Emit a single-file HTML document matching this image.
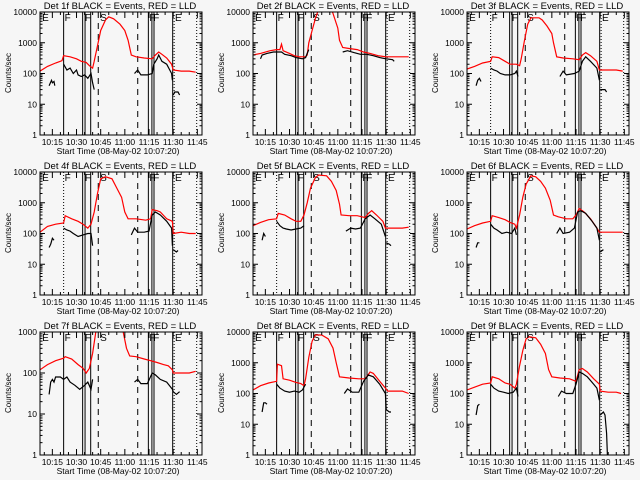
<!DOCTYPE html>
<html><head><meta charset="utf-8"><style>
html,body{margin:0;padding:0;background:#f6f6f6;}
svg{display:block;font-family:"Liberation Sans",sans-serif;}
</style></head><body>
<svg id="chart" width="640" height="480" viewBox="0 0 640 480" xmlns="http://www.w3.org/2000/svg">
<rect x="0" y="0" width="640" height="480" fill="#f6f6f6"/>
</svg>
<script>
// time in minutes after 10:00
const detNames = ["1f","2f","3f","4f","5f","6f","7f","8f","9f"];
const yMaxDecades = [4,4,4,4,4,4,3,4,4];
const xTickLabels = ["10:15","10:30","10:45","11:00","11:15","11:30","11:45"];
const xTickTimes = [15,30,45,60,75,90,105];
const red1 = [[7.3,120],[12,170],[17,220],[21,260],[22,380],[26,350],[30,300],[33,250],[36,230],[38,180],[40,150],[41,250],[43,800],[45,2500],[48,5500],[50,7000],[53,6000],[57,4000],[60,2500],[62,1200],[64,400],[67,350],[72,320],[77,300],[79,400],[81,500],[83,420],[86,320],[89,200],[90,130],[95,120],[100,120],[104,110]];
const black1 = [[13,40],[14.5,60],[15,50],[16,55],[16.5,40],null,[22,200],[24,130],[26,150],[28,100],[30,130],[31,90],[33,80],[35,90],[37,70],[39,100],[40,50],[41,30],null,[66,100],[68,130],[70,90],[74,90],[77,100],[78,200],[80,300],[81,400],[83,250],[86,200],[89,100],[89.5,60],null,[90,20],[91,25],[93,25],[94,20]];
const red2 = [[7.3,400],[12,450],[18,550],[22,600],[24,600],[25,900],[26,550],[30,450],[33,380],[36,350],[40,350],[41,400],[42,1000],[44,2500],[46,6000],[48,12000],[56,12000],[57,9000],[60,3000],[61,1200],[63,700],[67,650],[72,600],[76,500],[80,450],[85,380],[90,350],[104,350]];
const black2 = [[12,300],[13,400],[16,450],[20,500],[22,500],[25,500],[27,420],[31,380],[34,330],[38,300],[40,330],[41,450],[42,600],null,[63,500],[66,550],[70,480],[74,420],[78,420],[82,380],[86,330],[90,300],[94,280],[95,250]];
const red3 = [[7.3,140],[12,170],[17,220],[22,250],[23,350],[27,330],[31,250],[34,200],[38,200],[40,180],[41,300],[43,1200],[45,4000],[47,6500],[52,6500],[54,5500],[57,3500],[60,2000],[61,1000],[63,350],[67,320],[73,300],[77,280],[79,400],[81,480],[84,380],[88,250],[89.5,130],[92,130],[100,130],[104,120]];
const black3 = [[13,40],[14,60],[15,70],[16,55],null,[22,150],[24,130],[26,120],[28,100],[31,90],[34,90],[37,100],[38,120],[39,80],null,[65,80],[67,120],[69,90],[74,100],[77,120],[79,250],[81,350],[84,250],[88,150],[89.5,60],null,[90,30],[93,30],[94,25]];
const red4 = [[7.3,110],[12,170],[17,200],[22,220],[23,380],[27,300],[31,250],[34,200],[37,150],[39,200],[41,500],[43,2000],[45,6000],[48,7000],[52,6000],[55,3000],[58,1500],[60,500],[62,300],[67,300],[73,270],[76,300],[77,600],[80,550],[82,500],[86,300],[89.5,250],[90,100],[95,110],[100,100],[104,100]];
const black4 = [[13,35],[14,45],[15,70],[16,60],null,[22,150],[24,130],[26,120],[28,100],[31,80],[34,90],[37,100],[39,100],[40,40],null,[64,90],[66,150],[68,110],[72,110],[75,120],[77,400],[79,500],[82,400],[86,250],[89,150],[89.5,40],null,[90,30],[92,25],[93,28]];
const red5 = [[7.3,180],[12,230],[17,280],[22,300],[23,450],[27,400],[31,300],[34,250],[37,250],[39,400],[41,1000],[43,3000],[46,6500],[48,8000],[53,7500],[56,5000],[59,2500],[61,900],[62,400],[67,380],[72,380],[77,330],[79,450],[81,550],[84,400],[88,250],[89.5,150],[92,150],[100,150],[104,160]];
const black5 = [[13,60],[14,100],[15,80],null,[22,250],[24,180],[26,150],[28,140],[31,130],[34,140],[37,150],[39,180],null,[65,120],[68,150],[71,140],[74,150],[77,300],[80,400],[83,300],[87,200],[89.5,80],null,[90,50],[92,45],[93,40]];
const red6 = [[7.3,140],[12,180],[17,220],[22,250],[23,380],[27,330],[31,280],[34,230],[37,200],[38,150],[40,400],[42,1500],[44,4000],[47,7500],[50,7000],[53,5000],[56,3000],[59,1200],[61,400],[64,350],[69,300],[73,300],[75,400],[77,650],[80,500],[84,300],[88,150],[89.5,110],[92,110],[100,110],[104,110]];
const black6 = [[13,35],[14,50],[15,50],null,[22,200],[24,150],[26,130],[29,100],[32,110],[35,100],[37,150],[38,90],null,[63,100],[65,150],[67,100],[71,110],[74,150],[76,500],[78,550],[81,450],[85,250],[88,150],[89.5,60],null,[90,25],[92,30]];
const red7 = [[7.3,120],[12,160],[17,200],[22,230],[23,250],[27,220],[31,160],[34,130],[36,100],[38,130],[40,300],[42,1000],[43,2000],[50,5000],[58,2000],[59,1000],[61,400],[63,260],[67,250],[72,220],[76,200],[80,180],[84,160],[87,150],[89.5,120],[90,100],[95,100],[100,100],[104,110]];
const black7 = [[13,30],[14,60],[15,70],[16,60],[17,80],[20,80],[22,70],[24,80],[26,60],[29,50],[32,40],[35,50],[37,60],[39,40],[40,70],null,[66,60],[68,70],[70,55],[74,55],[77,100],[79,90],[82,70],[86,60],[89.5,40],[90,35],[92,30],[94,35]];
const red8 = [[7.3,130],[12,180],[17,220],[22,250],[22.5,900],[25,800],[26,300],[30,270],[34,230],[37,210],[39,180],[40,300],[42,1500],[44,5000],[46,8000],[50,8000],[54,6000],[57,3000],[59,1000],[61,350],[67,320],[73,300],[77,300],[80,500],[82,450],[86,250],[89.5,150],[91,120],[96,120],[100,120],[104,100]];
const black8 = [[13,25],[14,50],[15,50],[16,45],null,[22,200],[24,150],[27,120],[30,110],[33,120],[36,110],[38,130],[40,200],null,[64,100],[66,140],[69,110],[73,110],[76,250],[79,400],[82,350],[86,200],[89.5,100],[90,30],[92,25],[93,25]];
const red9 = [[7.3,130],[12,160],[17,200],[22,220],[23,350],[27,300],[31,220],[34,200],[37,150],[38,200],[40,800],[42,2500],[44,6000],[46,7000],[50,6500],[53,4000],[56,2000],[58,600],[60,350],[65,320],[71,300],[75,250],[77,600],[79,650],[82,500],[86,300],[89.5,200],[90,120],[95,110],[100,110],[103,100]];
const black9 = [[13,20],[14,40],[15,45],null,[22,200],[24,150],[27,120],[30,110],[33,100],[36,110],[38,150],[39,80],null,[64,80],[66,120],[69,100],[73,100],[75,200],[77,500],[79,450],[82,350],[86,200],[88,150],[89.5,60],null,[90,20],[92,25],[93,20],[94,5],[94.5,1]];
const redSeries = [red1,red2,red3,red4,red5,red6,red7,red8,red9];
const blackSeries = [black1,black2,black3,black4,black5,black6,black7,black8,black9];
const solidLineTimes = [33.8,35.3,38.8,74.6,76.8,78.1,89.7];
const dashedLineTimes = [43.5,68];
const dottedLineTimes = [90.6,104.6];
const firstLineDotted = [false,false,true,true,true,false,false,false,false];
const markerLabels = ["E","F","F","S","F","F","E"];
const markerTimes = [8,22,34.5,44,74.6,77,90.5];

const NS = "http://www.w3.org/2000/svg";
const svg = document.getElementById("chart");
function mk(tag, attrs, parent){const e=document.createElementNS(NS,tag);for(const k in attrs)e.setAttribute(k,attrs[k]);parent.appendChild(e);return e;}
const T0=7.33, T1=107.9, PW=162, PT=12, PB=135;
for(let p=0;p<9;p++){
  const col=p%3,row=Math.floor(p/3);
  const ox=[40,253,467][col], oy=row*160;
  const g=mk("g",{},svg);
  
  
  const top=oy+PT,bot=oy+PB;
  const dec=yMaxDecades[p];
  const xs=t=>ox+(t-T0)/(T1-T0)*PW;
  const ys=v=>bot-(Math.log10(Math.max(v,1)))/dec*(PB-PT);
  const cid="clip"+p;
  const cp=mk("clipPath",{id:cid},g);mk("rect",{x:ox,y:top,width:PW,height:PB-PT},cp);
  // title
  const ti=mk("text",{x:ox+80,y:oy+9,"text-anchor":"middle","font-size":"9.5",fill:"#000"},g);
  ti.textContent="Det "+detNames[p]+" BLACK = Events, RED = LLD";
  
  
  // vertical event lines
  const vg=mk("g",{"clip-path":"url(#"+cid+")",stroke:"#000","stroke-width":"1"},g);
  
  
  const l0=mk("line",{x1:xs(22),x2:xs(22),y1:top,y2:bot},vg);
  if(firstLineDotted[p]) l0.setAttribute("stroke-dasharray","1,2");
  solidLineTimes.forEach(t=>mk("line",{x1:xs(t),x2:xs(t),y1:top,y2:bot},vg));
  dashedLineTimes.forEach(t=>mk("line",{x1:xs(t),x2:xs(t),y1:top,y2:bot,"stroke-dasharray":"6,5"},vg));
  dottedLineTimes.forEach(t=>mk("line",{x1:xs(t),x2:xs(t),y1:top,y2:bot,"stroke-dasharray":"1,2"},vg));
  markerLabels.forEach((m,i)=>{const tx=mk("text",{x:xs(markerTimes[i])+1,y:top+9,"font-size":"10",fill:"#000"},g);tx.textContent=m;
    
    });
  // series
  function path(arr){let d="",pen=false;arr.forEach(pt=>{if(!pt){pen=false;return;}d+=(pen?"L":"M")+xs(pt[0]).toFixed(1)+","+ys(pt[1]).toFixed(1);pen=true;});return d;}
  const rp=mk("path",{d:path(redSeries[p]),fill:"none",stroke:"#ff0000","stroke-width":"1.2","clip-path":"url(#"+cid+")"},g);
  
  
  const bp=mk("path",{d:path(blackSeries[p]),fill:"none",stroke:"#000","stroke-width":"1.2","clip-path":"url(#"+cid+")"},g);
  
  
  // frame
  const fr=mk("rect",{x:ox,y:top,width:PW,height:PB-PT,fill:"none",stroke:"#000","stroke-width":"1"},g);
  
  
  // y ticks
  for(let d=0;d<=dec;d++){
    const y=bot-d/dec*(PB-PT);
    mk("line",{x1:ox,x2:ox+5,y1:y,y2:y,stroke:"#000"},g);
    mk("line",{x1:ox+PW,x2:ox+PW-5,y1:y,y2:y,stroke:"#000"},g);
    const lb=mk("text",{x:ox-3,y:y+3,"text-anchor":"end","font-size":"8.5",fill:"#000"},g);
    lb.textContent=String(Math.pow(10,d));
    
    
    if(d<dec)for(let m=2;m<10;m++){const yy=y-Math.log10(m)/dec*(PB-PT);
      mk("line",{x1:ox,x2:ox+2.5,y1:yy,y2:yy,stroke:"#000"},g);mk("line",{x1:ox+PW,x2:ox+PW-2.5,y1:yy,y2:yy,stroke:"#000"},g);}
  }
  // x ticks
  for(let t=10;t<=105;t+=5){const x=xs(t);const major=(t%15===0);const h=major?6:3;
    mk("line",{x1:x,x2:x,y1:bot,y2:bot-h,stroke:"#000"},g);mk("line",{x1:x,x2:x,y1:top,y2:top+h,stroke:"#000"},g);}
  xTickLabels.forEach((s,i)=>{const lb=mk("text",{x:xs(xTickTimes[i]),y:bot+10,"text-anchor":"middle","font-size":"8.5",fill:"#000"},g);lb.textContent=s;
    
    });
  const xl=mk("text",{x:ox+78,y:bot+19,"text-anchor":"middle","font-size":"8.5",fill:"#000"},g);
  xl.textContent="Start Time (08-May-02 10:07:20)";
  
  
  const yl=mk("text",{x:0,y:0,"text-anchor":"middle","font-size":"8",fill:"#000",transform:"translate("+(ox-29)+","+(oy+73)+") rotate(-90)"},g);
  yl.textContent="Counts/sec";
  
  
}
</script>
</body></html>
